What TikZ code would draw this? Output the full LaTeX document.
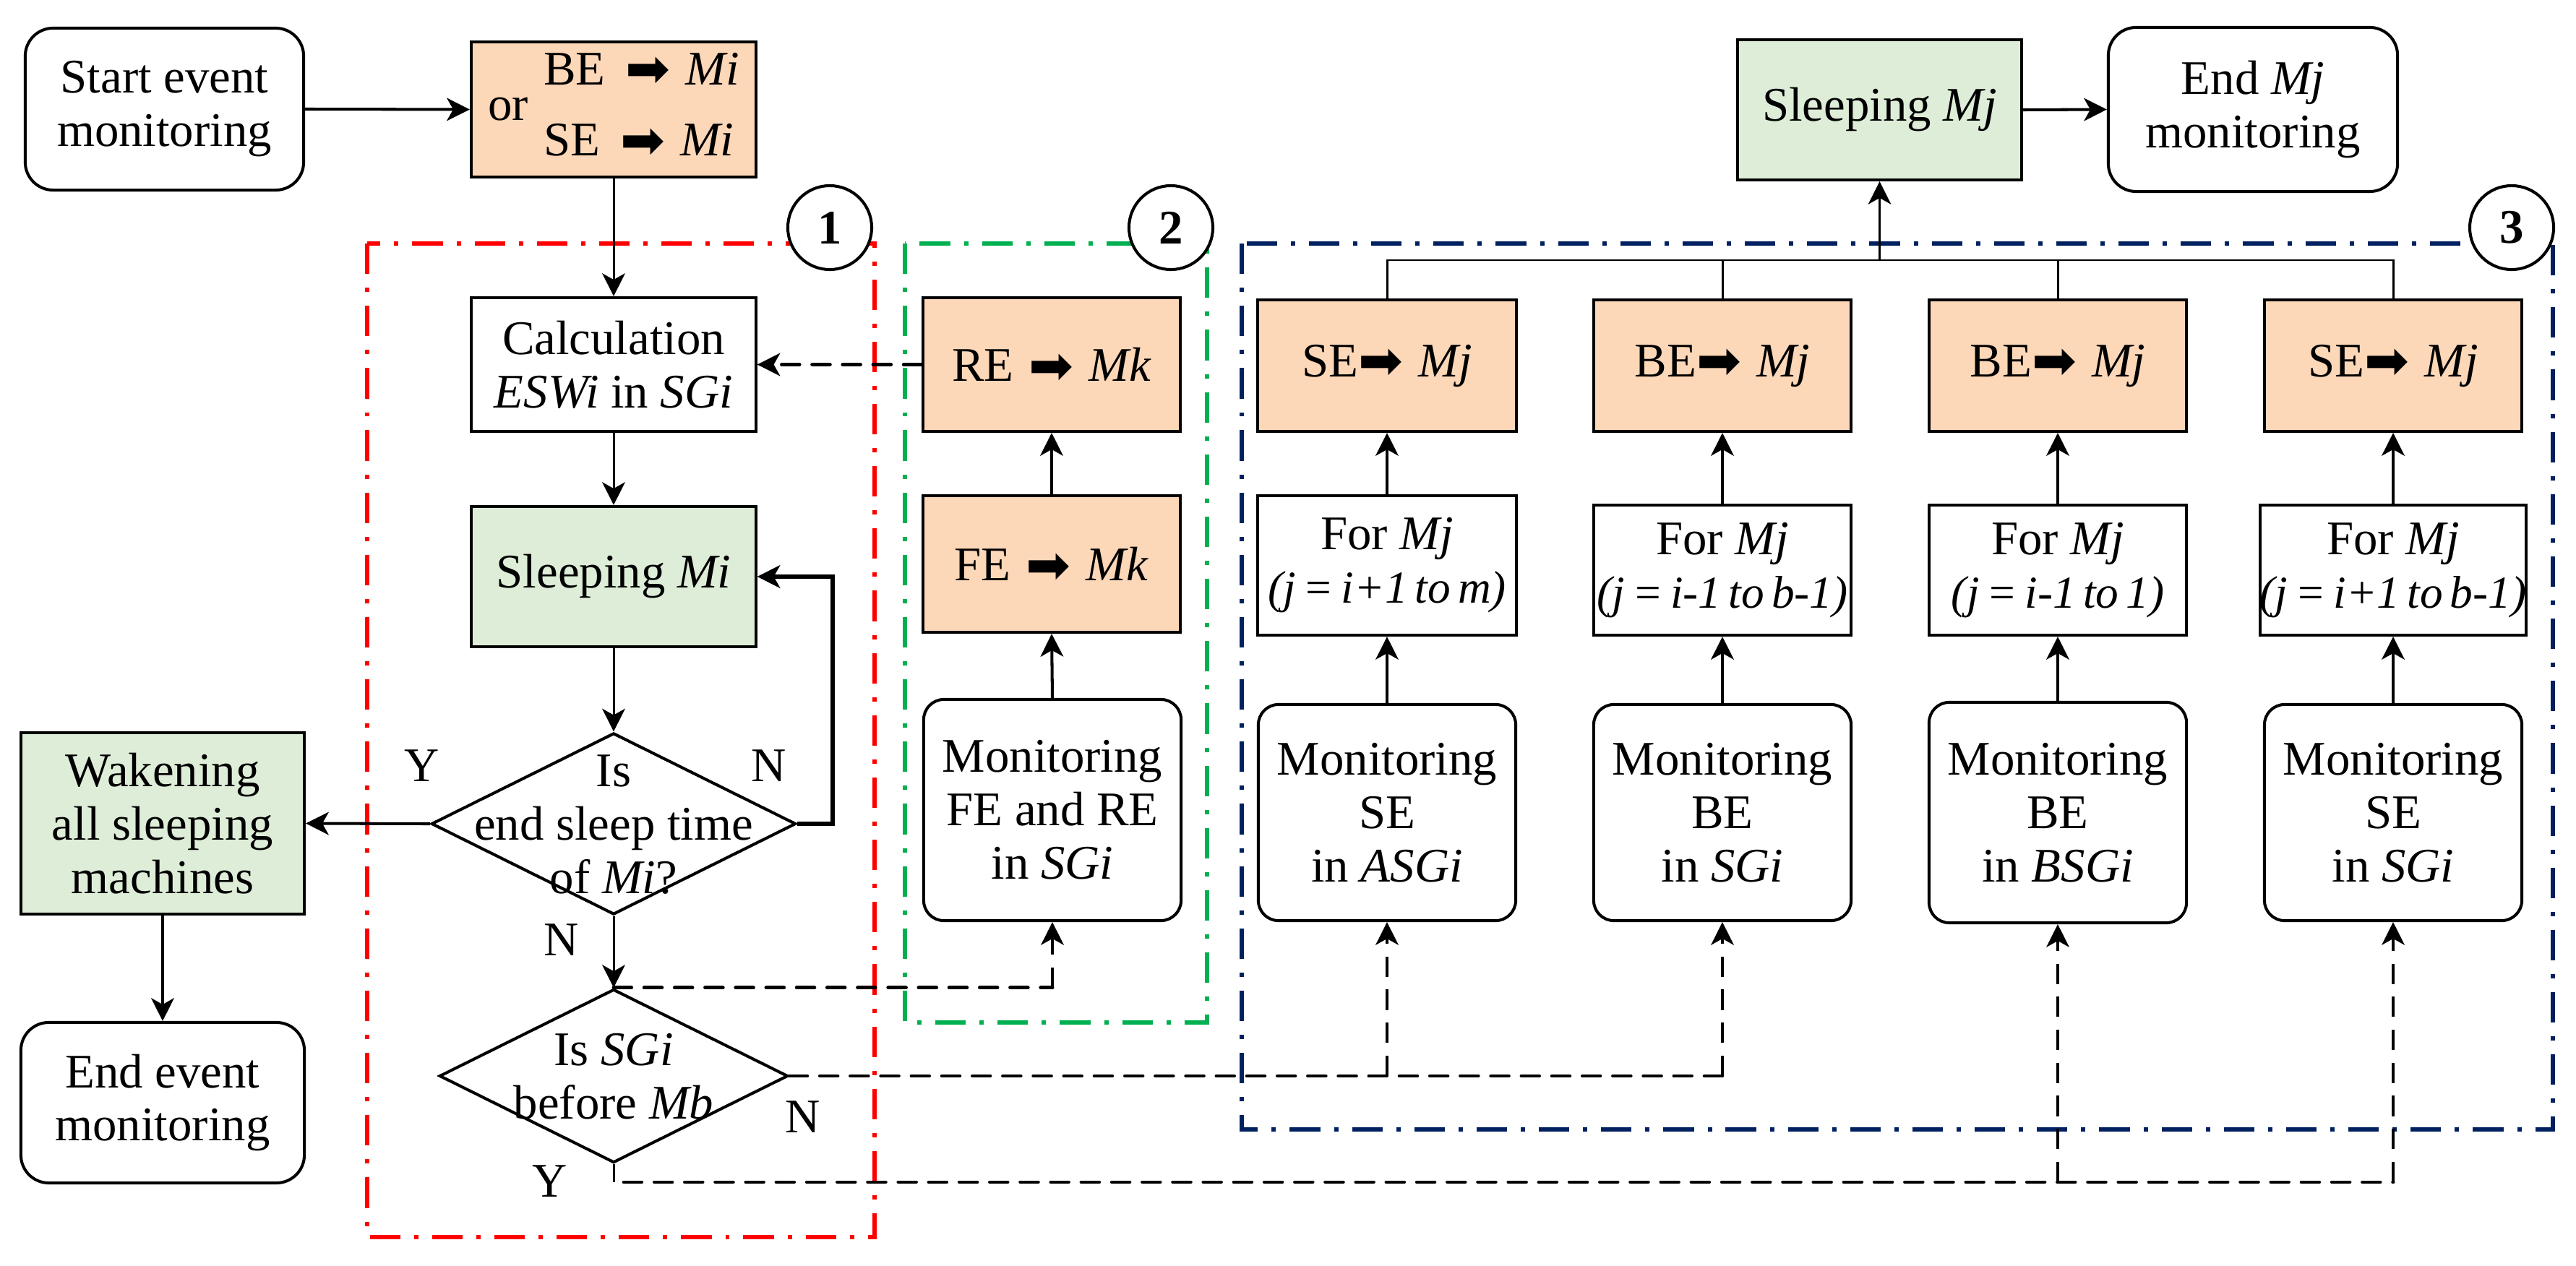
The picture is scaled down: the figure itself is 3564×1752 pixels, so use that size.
\documentclass[tikz,border=0pt]{standalone}
\usepackage{fontspec}
\setmainfont{Liberation Serif}
\newfontfamily\djv{DejaVu Sans}
\usetikzlibrary{arrows.meta,shapes.geometric,calc}
\definecolor{peach}{HTML}{FCD7B8}
\definecolor{lgreen}{HTML}{DEEDD8}
\definecolor{frgreen}{HTML}{00B050}
\definecolor{frblue}{HTML}{002060}
\newcommand{\myarr}{\smash{\raisebox{-1pt}{\djv\fontsize{21}{21}\selectfont ➡}}}
\newcommand{\rng}[1]{{\fontsize{18}{21}\selectfont\spaceskip=0.16em plus 0.05em\itshape #1}}
\begin{document}
\begin{tikzpicture}[x=0.01cm,y=-0.01cm,
  every node/.style={font=\fontsize{19}{21}\selectfont},
  box/.style={draw,line width=1.15pt,inner sep=0pt,align=center},
  rbox/.style={box,rounded corners=11pt},
  mbox/.style={box,rounded corners=8pt},
  pfill/.style={fill=peach},
  gfill/.style={fill=lgreen},
  tip/.style={-{Stealth[length=9pt,width=9pt,inset=2.5pt]}},
  arrowline/.style={line width=1.15pt,tip},
  thinarrow/.style={line width=0.85pt,tip},
  thinline/.style={line width=0.85pt},
  hdash/.style={line width=1.4pt,dash pattern=on 7pt off 5pt,line cap=round},
  vdash/.style={line width=1pt,dash pattern=on 8pt off 5pt,tip},
  frame/.style={line width=1.7pt,dash pattern=on 12pt off 5.4pt on 1.7pt off 5.4pt},
  numcircle/.style={circle,draw,line width=1.15pt,fill=white,minimum size=1.16cm,inner sep=0pt,font=\fontsize{19}{21}\selectfont\bfseries},
  lbl/.style={inner sep=0pt}
]
\useasboundingbox (0,0) rectangle (3564,1752);

% frames
\draw[frame,red] (508,337) rectangle (1210,1712);
\draw[frame,frgreen] (1252,337) rectangle (1670,1415);
\draw[frame,frblue] (1718,337) rectangle (3532,1563);
\node[numcircle] (c1) at (1148,315) {1};
\node[numcircle] (c2) at (1620,315) {2};
\node[numcircle] (c3) at (3475,315) {3};

% left column
\node[rbox,minimum width=3.85cm,minimum height=2.24cm] (start) at (227.5,151) {Start event\\monitoring};
\node[box,pfill,minimum width=3.94cm,minimum height=1.87cm] (bese) at (849,151.5)
  {or\hspace{6pt}\begin{tabular}{@{}l@{}}BE\hspace{8pt}\myarr\hspace{6pt}\textit{Mi}\\[7pt]SE\hspace{8pt}\myarr\hspace{6pt}\textit{Mi}\end{tabular}};
\node[box,minimum width=3.93cm,minimum height=1.85cm] (calc) at (849,504.5) {Calculation\\\textit{ESWi} in \textit{SGi}};
\node[box,gfill,minimum width=3.93cm,minimum height=1.94cm] (sleepi) at (849,798) {Sleeping \textit{Mi}};
\node[diamond,draw,line width=1.15pt,inner sep=0pt,minimum width=5.04cm,minimum height=2.51cm] (d1) at (849,1140) {};
\node[lbl,align=center] (d1t) at (849,1141) {Is\\end sleep time\\of \textit{Mi}?};
\node[box,gfill,minimum width=3.92cm,minimum height=2.51cm] (wake) at (225,1139.5) {Wakening\\all sleeping\\machines};
\node[rbox,minimum width=3.92cm,minimum height=2.22cm] (endev) at (225,1526) {End event\\monitoring};
\node[diamond,draw,line width=1.15pt,inner sep=0pt,minimum width=4.82cm,minimum height=2.40cm] (d2) at (849,1489) {};
\node[lbl,align=center] (d2t) at (849,1490) {Is \textit{SGi}\\before \textit{Mb}};

% labels
\node[lbl] (ly1) at (584,1060) {Y};
\node[lbl] (ln1) at (1064,1060) {N};
\node[lbl] (ln2) at (777,1301) {N};
\node[lbl] (ln3) at (1111,1546) {N};
\node[lbl] (ly2) at (761,1635) {Y};

% group 2
\node[box,pfill,minimum width=3.56cm,minimum height=1.85cm] (re) at (1455,504.5) {RE\hspace{6pt}\myarr\hspace{6pt}\textit{Mk}};
\node[box,pfill,minimum width=3.56cm,minimum height=1.89cm] (fe) at (1455,780.5) {FE\hspace{6pt}\myarr\hspace{6pt}\textit{Mk}};
\node[mbox,minimum width=3.56cm,minimum height=3.06cm] (monfe) at (1456,1121) {Monitoring\\FE and RE\\in \textit{SGi}};

% group 3
\node[box,pfill,minimum width=3.57cm,minimum height=1.82cm] (se1) at (1919,506) {SE\myarr\hspace{6pt}\textit{Mj}};
\node[box,pfill,minimum width=3.56cm,minimum height=1.82cm] (se2) at (2383,506) {BE\myarr\hspace{6pt}\textit{Mj}};
\node[box,pfill,minimum width=3.56cm,minimum height=1.82cm] (se3) at (2847,506) {BE\myarr\hspace{6pt}\textit{Mj}};
\node[box,pfill,minimum width=3.56cm,minimum height=1.82cm] (se4) at (3311,506) {SE\myarr\hspace{6pt}\textit{Mj}};

\node[box,minimum width=3.57cm,minimum height=1.93cm] (for1) at (1919,782.5) {For \textit{Mj}\\\rng{(j = i+1 to m)}};
\node[box,minimum width=3.56cm,minimum height=1.80cm] (for2) at (2383,789) {For \textit{Mj}\\\rng{(j = i-1 to b-1)}};
\node[box,minimum width=3.56cm,minimum height=1.80cm] (for3) at (2847,789) {For \textit{Mj}\\\rng{(j = i-1 to 1)}};
\node[box,minimum width=3.56cm,minimum height=1.80cm] (for4) at (3311,789) {For \textit{Mj}\\\rng{(j = i+1 to b-1)}};

\node[mbox,minimum width=3.56cm,minimum height=2.99cm] (mon1) at (1919,1124.5) {Monitoring\\SE\\in \textit{ASGi}};
\node[mbox,minimum width=3.56cm,minimum height=2.99cm] (mon2) at (2383,1124.5) {Monitoring\\BE\\in \textit{SGi}};
\node[mbox,minimum width=3.56cm,minimum height=3.05cm] (mon3) at (2847,1124.5) {Monitoring\\BE\\in \textit{BSGi}};
\node[mbox,minimum width=3.56cm,minimum height=2.99cm] (mon4) at (3311,1124.5) {Monitoring\\SE\\in \textit{SGi}};

\node[box,gfill,minimum width=3.93cm,minimum height=1.94cm] (sleepj) at (2600.5,152) {Sleeping \textit{Mj}};
\node[rbox,minimum width=4.00cm,minimum height=2.27cm] (endj) at (3117,151.5) {End \textit{Mj}\\monitoring};

% coordinates
\coordinate (loopc) at (1152,1140);
\coordinate (yc) at (849,1636);
\coordinate (bus) at (2600.5,360);

% connectors left
\draw[arrowline] (start.east) -- (bese.west);
\draw[thinarrow] (bese.south) -- (calc.north);
\draw[thinarrow] (calc.south) -- (sleepi.north);
\draw[thinarrow] (sleepi.south) -- (d1.north);
\draw[arrowline] (d1.west) -- (wake.east);
\draw[arrowline] (wake.south) -- (endev.north);
\draw[thinarrow] (d1.south) -- (d2.north);
\draw[line width=1.5pt,tip] (d1.east) -- (loopc) |- (sleepi.east);
\draw[hdash,tip] (re.west) -- (calc.east);

% group 2 connectors
\draw[arrowline] (fe.north) -- (re.south);
\draw[arrowline] (monfe.north) -- (fe.south);
\draw[hdash] (d2.north) -- (d2.north -| monfe.south);
\draw[vdash] (d2.north -| monfe.south) -- (monfe.south);

% dashed to group 3
\draw[hdash] (d2.east) -- (d2.east -| mon2.south);
\draw[vdash] (d2.east -| mon2.south) -- (mon2.south);
\draw[vdash] (mon1.south |- d2.east) -- (mon1.south);
\draw[thinline] (d2.south) -- (yc);
\draw[hdash] ([xshift=4pt]yc) -- (yc -| mon4.south);
\draw[vdash] (yc -| mon4.south) -- (mon4.south);
\draw[vdash] (mon3.south |- yc) -- (mon3.south);

% group 3 connectors
\foreach \k in {1,2,3,4}{
  \draw[arrowline] (mon\k.north) -- (for\k.south);
  \draw[arrowline] (for\k.north) -- (se\k.south);
}
\draw[thinline] (se1.north) |- (se4.north |- bus) -- (se4.north);
\draw[thinline] (se2.north) -- (se2.north |- bus);
\draw[thinline] (se3.north) -- (se3.north |- bus);
\draw[thinarrow] (bus) -- (sleepj.south);
\draw[arrowline] (sleepj.east) -- (endj.west);
\end{tikzpicture}
\end{document}
